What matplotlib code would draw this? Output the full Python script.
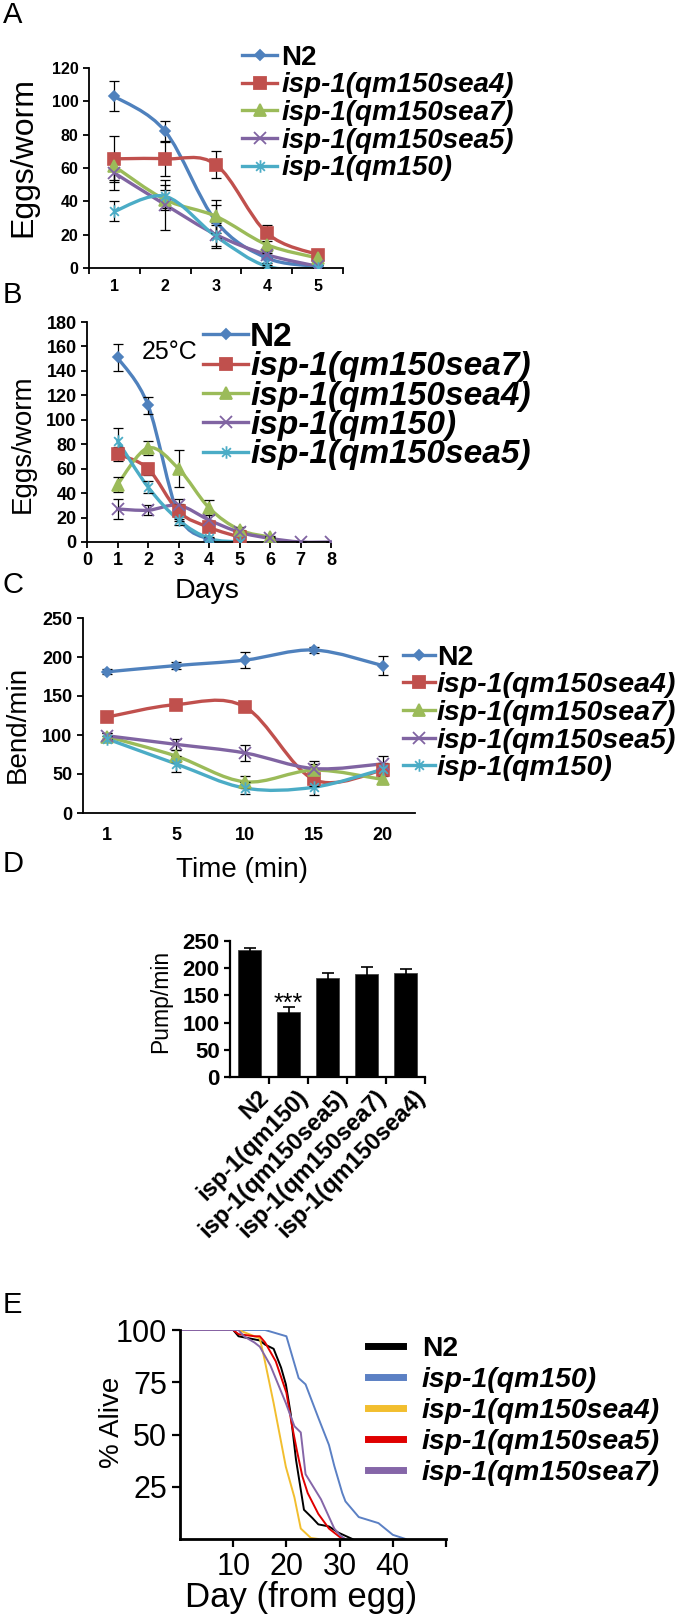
import numpy as np
import matplotlib
matplotlib.use('Agg')
import matplotlib.pyplot as plt
import matplotlib.transforms as mtransforms
from matplotlib.path import Path
from matplotlib.patches import PathPatch
from matplotlib.lines import Line2D

plt.rcParams['font.family'] = ['Liberation Sans', 'DejaVu Sans']

# ---- data ----
# A: eggs per worm, 20C
days_a = [1, 2, 3, 4, 5]
a_n2 = [103, 82, 28, 6, 1]
a_n2_err = [9, 6, 10, 3, 1]
a_sea4 = [65.5, 65.5, 62, 21, 8]
a_sea4_err = [14, 10, 8, 5, 1]
a_sea7 = [61, 41, 31, 14, 6]
a_sea7_err = [8, 6, 10, 4, 1]
a_sea5 = [57, 38, 20, 8, 1]
a_sea5_err = [10, 15, 7, 2, 1]
a_qm150 = [34, 43, 19, 1, 0]
a_qm150_err = [6, 7, 7, 1, 0]

# B: eggs per worm, 25C
b_n2_days = [1, 2, 3, 4]
b_n2 = [151, 112, 22, 2]
b_n2_err = [11, 7, 5, 1]
b_sea7_days = [1, 2, 3, 4, 5]
b_sea7 = [72, 60, 25, 12, 4]
b_sea7_err = [6, 5, 6, 4, 1]
b_sea4_days = [1, 2, 3, 4, 5, 6]
b_sea4 = [47, 77, 60, 28, 10, 4]
b_sea4_err = [6, 6, 15, 6, 2, 1]
b_qm150_days = [1, 2, 3, 4, 5, 6, 7, 8]
b_qm150 = [27, 26, 30, 18, 8, 3, 0, 0]
b_qm150_err = [8, 4, 5, 4, 2, 1, 0, 0]
b_sea5_days = [1, 2, 3, 4, 5]
b_sea5 = [83, 45, 18, 3, 0]
b_sea5_err = [10, 5, 4, 1, 0]

# C: body bends
times_c = ['1', '5', '10', '15', '20']
c_n2 = [181, 189, 196, 209, 189]
c_n2_err = [3, 5, 10, 4, 12]
c_sea4 = [123, 139, 136, 43, 55]
c_sea4_err = [3, 3, 4, 8, 6]
c_sea7 = [98, 73, 40, 55, 43]
c_sea7_err = [4, 8, 8, 8, 6]
c_sea5 = [99, 88, 77, 57, 63]
c_sea5_err = [4, 7, 10, 10, 10]
c_qm150 = [95, 63, 32, 33, 56]
c_qm150_err = [4, 10, 8, 10, 8]

# D: pumping
d_strains = ['N2', 'isp-1(qm150)', 'isp-1(qm150sea5)', 'isp-1(qm150sea7)', 'isp-1(qm150sea4)']
d_pump = [233, 120, 182, 190, 192]
d_pump_err = [5, 8, 10, 12, 7]

# E: survival
e_n2_day = [0, 10, 11, 13, 15, 16, 17.6, 19, 19.9, 20.8, 21.8, 23.3, 24.9, 26, 28, 29.8, 32.4]
e_n2_pct = [100, 100, 97, 96, 95, 93, 91, 82, 74, 60, 38, 14, 10, 7, 6, 3, 0]
e_qm150_day = [0, 16, 20, 22.3, 23.6, 26, 28, 29, 30.5, 31.1, 33.6, 37.3, 40, 42.4]
e_qm150_pct = [100, 100, 97, 77, 74, 58, 45, 35, 22, 18, 10.5, 7.6, 2, 0]
e_sea4_day = [0, 11, 13, 15, 15.8, 17.6, 19.9, 21.5, 22.7, 24.6, 26]
e_sea4_pct = [100, 100, 98, 96, 87, 65, 34.5, 20, 5, 0.5, 0]
e_sea5_day = [0, 10, 11, 14, 15, 16, 18, 20, 21, 22, 23, 24, 26, 28, 30, 31]
e_sea5_pct = [100, 100, 98, 97, 97, 94, 85, 70, 55, 42, 30, 22, 12, 5, 1, 0]
e_sea7_day = [0, 11, 12, 14, 15, 17, 19.9, 21.5, 22.7, 23.6, 26.5, 29, 30, 31]
e_sea7_pct = [100, 100, 97, 94, 92, 83, 65, 54, 51, 31, 19, 5, 2, 0]

BLUE, RED, GREEN, PURPLE, CYAN = '#4F81BD', '#C0504D', '#9BBB59', '#8064A2', '#4BACC6'
STAR = Path([(0, -1), (0, 1), (-0.7, -0.7), (0.7, 0.7), (-0.7, 0.7), (0.7, -0.7)],
            [Path.MOVETO, Path.LINETO] * 3)

W, H = 680, 1620
fig = plt.figure(figsize=(W / 100, H / 100), dpi=100)


def box(l, t, r, b):
    return [l / W, 1 - b / H, (r - l) / W, (b - t) / H]


def ftext(x, y, s, **kw):
    fig.text(x / W, 1 - y / H, s, ha=kw.pop('ha', 'center'), va=kw.pop('va', 'center'), **kw)


def smooth(ax, x, y, color, lw=2.4):
    # excel-style smoothed line (bezier through the points)
    pts = np.column_stack([x, y]).astype(float)
    n = len(pts)
    verts, codes = [pts[0]], [Path.MOVETO]
    for i in range(n - 1):
        p0 = pts[i - 1] if i > 0 else pts[i]
        p3 = pts[i + 2] if i + 2 < n else pts[i + 1]
        verts += [pts[i] + (pts[i + 1] - p0) / 6, pts[i + 1] - (p3 - pts[i]) / 6, pts[i + 1]]
        codes += [Path.CURVE4] * 3
    ax.add_patch(PathPatch(Path(verts, codes), fill=False, ec=color, lw=lw,
                           capstyle='round', joinstyle='round', zorder=2))


def series(ax, x, y, err, color, marker, ms):
    smooth(ax, x, y, color)
    ax.errorbar(x, y, yerr=err, fmt='none', ecolor='black', elinewidth=0.9,
                capsize=3.5, capthick=0.9, zorder=3)
    filled = marker in ('D', 's', '^')
    ax.plot(x, y, ls='none', marker=marker, ms=ms, color=color,
            mec=color, mew=1.2 if filled else 1.3, zorder=4)


def style_axes(ax, fs, lw=1.3):
    for s in ['top', 'right']:
        ax.spines[s].set_visible(False)
    for s in ['left', 'bottom']:
        ax.spines[s].set_linewidth(lw)
    ax.tick_params(labelsize=fs, width=lw, length=4)
    for t in ax.get_xticklabels() + ax.get_yticklabels():
        t.set_fontweight('bold')


def legend(handles, labels, x, y, fs, hl, pad, spacing):
    leg = fig.legend(handles, labels, loc='center left', bbox_to_anchor=(x / W, 1 - y / H),
                     frameon=False, borderpad=0, borderaxespad=0, handlelength=hl,
                     handletextpad=pad, labelspacing=spacing,
                     prop={'size': fs, 'weight': 'bold'})
    for i, t in enumerate(leg.get_texts()):
        if i > 0:
            t.set_fontstyle('italic')
    return leg


def handle(color, marker, ms, lw=2.4):
    return Line2D([], [], color=color, lw=lw, marker=marker, ms=ms, mec=color, mew=1.3)


def excel_handles():
    return [handle(BLUE, 'D', 5.5), handle(RED, 's', 8), handle(GREEN, '^', 8),
            handle(PURPLE, 'x', 8), handle(CYAN, STAR, 9)]


# ---- A ----
axA = fig.add_axes(box(89, 68, 343, 268))
series(axA, days_a, a_n2, a_n2_err, BLUE, 'D', 5.5)
series(axA, days_a, a_sea4, a_sea4_err, RED, 's', 8)
series(axA, days_a, a_sea7, a_sea7_err, GREEN, '^', 8)
series(axA, days_a, a_sea5, a_sea5_err, PURPLE, 'x', 8)
series(axA, days_a, a_qm150, a_qm150_err, CYAN, STAR, 9)
axA.set_xlim(0.5, 5.5)
axA.set_ylim(0, 120)
axA.set_yticks(range(0, 121, 20))
axA.set_xticks(days_a)
axA.set_xticks(np.arange(0.5, 5.6, 1), minor=True)
style_axes(axA, 11.5)
axA.tick_params(axis='x', which='major', length=0, pad=8)
axA.tick_params(axis='x', which='minor', length=4, width=1.3)
ftext(23, 157, 'Eggs/worm', rotation=90, fontsize=23)
legend(excel_handles(),
       ['N2', 'isp-1(qm150sea4)', 'isp-1(qm150sea7)', 'isp-1(qm150sea5)', 'isp-1(qm150)'],
       242, 113, 20, 1.26, 0.15, 0.06)

# ---- B ----
axB = fig.add_axes(box(87, 322, 331, 542))
series(axB, b_n2_days, b_n2, b_n2_err, BLUE, 'D', 5.5)
series(axB, b_sea7_days, b_sea7, b_sea7_err, RED, 's', 8)
series(axB, b_sea4_days, b_sea4, b_sea4_err, GREEN, '^', 8)
series(axB, b_qm150_days, b_qm150, b_qm150_err, PURPLE, 'x', 8)
series(axB, b_sea5_days, b_sea5, b_sea5_err, CYAN, STAR, 9)
axB.set_xlim(0, 8)
axB.set_ylim(0, 180)
axB.set_yticks(range(0, 181, 20))
axB.set_xticks(range(0, 9))
style_axes(axB, 13)
ftext(23, 444, 'Eggs/worm', rotation=90, fontsize=20)
ftext(207, 591, 'Days', fontsize=20.5)
ftext(170, 352, '25°C', fontsize=18)
legend(excel_handles(),
       ['N2', 'isp-1(qm150sea7)', 'isp-1(qm150sea4)', 'isp-1(qm150)', 'isp-1(qm150sea5)'],
       203, 396, 24, 1.35, 0.06, -0.05)

# ---- C ----
axC = fig.add_axes(box(83, 618, 415, 813))
xc = np.arange(len(times_c))
series(axC, xc, c_n2, c_n2_err, BLUE, 'D', 5.5)
series(axC, xc, c_sea4, c_sea4_err, RED, 's', 8)
series(axC, xc, c_sea7, c_sea7_err, GREEN, '^', 8)
series(axC, xc, c_sea5, c_sea5_err, PURPLE, 'x', 8)
series(axC, xc, c_qm150, c_qm150_err, CYAN, STAR, 9)
axC.set_xlim(-0.35, 4.47)
axC.set_ylim(0, 250)
axC.set_yticks(range(0, 251, 50))
axC.set_xticks(xc, times_c)
style_axes(axC, 13)
axC.tick_params(axis='x', length=0, pad=10)
ftext(18, 724, 'Bend/min', rotation=90, fontsize=20)
ftext(242, 870, 'Time (min)', fontsize=20)
legend(excel_handles(),
       ['N2', 'isp-1(qm150sea4)', 'isp-1(qm150sea7)', 'isp-1(qm150sea5)', 'isp-1(qm150)'],
       403, 713, 20.5, 1.12, 0.07, 0.06)

# ---- D ----
axD = fig.add_axes(box(230, 941, 425, 1077))
xd = np.arange(len(d_strains))
axD.bar(xd, d_pump, width=0.6, color='black', edgecolor='#444444', lw=0.6,
        yerr=d_pump_err, capsize=4, error_kw={'elinewidth': 1.2, 'capthick': 1.2})
axD.text(xd[1], d_pump[1] + 2, '***', ha='center', va='baseline', fontsize=18)
axD.set_xlim(-0.5, 4.5)
axD.set_ylim(0, 250)
axD.set_yticks(range(0, 251, 50))
axD.set_xticks(xd, d_strains, rotation=45, ha='right', va='top', rotation_mode='anchor')
axD.set_xticks(np.arange(0.5, 4.6, 1), minor=True)
style_axes(axD, 16, lw=1.6)
axD.tick_params(axis='x', which='major', length=0, pad=6, labelsize=17)
axD.tick_params(axis='x', which='minor', length=5, width=1.6)
shift = mtransforms.ScaledTranslation(0.08, 0, fig.dpi_scale_trans)
for lab in axD.get_xticklabels():
    lab.set_transform(lab.get_transform() + shift)
ftext(161, 1001, 'Pump/min', rotation=90, fontsize=16.5)

# ---- E ----
axE = fig.add_axes(box(180, 1330, 446, 1539))
E_COLORS = ['black', '#5B80C4', '#F2BE2E', '#E00000', '#8566A8']
axE.plot(e_n2_day, e_n2_pct, color=E_COLORS[0], lw=1.4)
axE.plot(e_qm150_day, e_qm150_pct, color=E_COLORS[1], lw=1.4)
axE.plot(e_sea4_day, e_sea4_pct, color=E_COLORS[2], lw=1.4)
axE.plot(e_sea5_day, e_sea5_pct, color=E_COLORS[3], lw=1.4)
axE.plot(e_sea7_day, e_sea7_pct, color=E_COLORS[4], lw=1.4)
axE.set_xlim(0, 50)
axE.set_ylim(0, 100)
axE.set_xticks([10, 20, 30, 40, 50], ['10', '20', '30', '40', ''])
axE.set_yticks([25, 50, 75, 100])
for s in ['top', 'right']:
    axE.spines[s].set_visible(False)
for s in ['left', 'bottom']:
    axE.spines[s].set_linewidth(2)
axE.tick_params(labelsize=22, width=1.6, length=6)
ftext(112, 1422, '% Alive', rotation=90, fontsize=20)
ftext(301, 1598, 'Day (from egg)', fontsize=25)
legend([Line2D([], [], color=c, lw=5) for c in E_COLORS],
       ['N2', 'isp-1(qm150)', 'isp-1(qm150sea4)', 'isp-1(qm150sea5)', 'isp-1(qm150sea7)'],
       368, 1411, 20.4, 1.23, 0.67, 0.18)

# panel letters
for letter, y in zip('ABCDE', [15, 295, 585, 864, 1305]):
    ftext(3, y, letter, ha='left', fontsize=21)

fig.savefig('out.png', dpi=100)
